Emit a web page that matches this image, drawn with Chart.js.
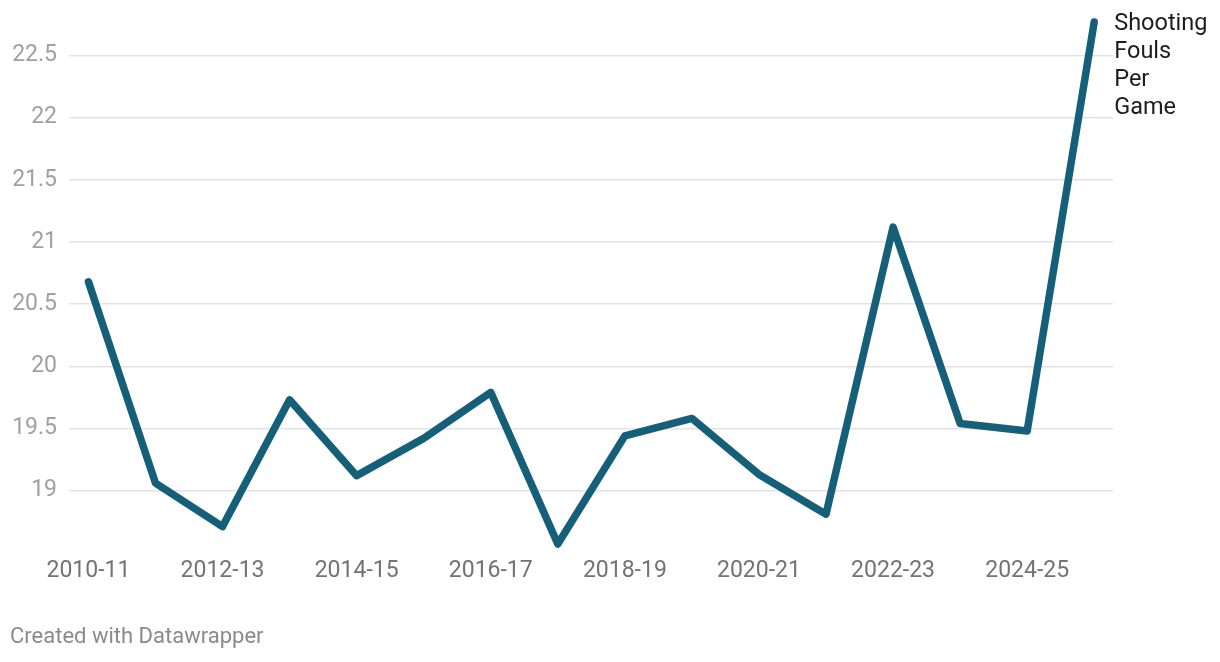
<!DOCTYPE html>
<html>
<head>
<meta charset="utf-8">
<script src="https://cdn.jsdelivr.net/npm/chart.js@4/dist/chart.umd.min.js"></script>
<style>
  html, body { margin: 0; padding: 0; background: #fff; }
  #wrap { position: relative; width: 1220px; height: 662px; }
  #footer { position: absolute; left: 10px; top: 623px; font-family: Roboto, sans-serif; font-size: 22px; line-height: 26px; color: #8a8a8a; }
</style>
</head>
<body>
<div id="wrap">
  <canvas id="c"></canvas>
  <div id="footer">Created with Datawrapper</div>
</div>
<script>
const seasons = ["2010-11","2011-12","2012-13","2013-14","2014-15","2015-16","2016-17","2017-18","2018-19","2019-20","2020-21","2021-22","2022-23","2023-24","2024-25","2025-26"];
const shootingFouls = [20.68, 19.06, 18.71, 19.73, 19.12, 19.42, 19.79, 18.57, 19.44, 19.58, 19.13, 18.81, 21.12, 19.54, 19.48, 22.77];
const yTicks = [19, 19.5, 20, 20.5, 21, 21.5, 22, 22.5];
const xTickIdx = [0, 2, 4, 6, 8, 10, 12, 14];
const seriesLabel = ["Shooting", "Fouls", "Per", "Game"];

const endLabel = {
  id: 'endLabel',
  afterDatasetsDraw(chart) {
    const meta = chart.getDatasetMeta(0);
    const pt = meta.data[meta.data.length - 1];
    const ctx = chart.ctx;
    ctx.save();
    ctx.font = '23.5px Roboto';
    ctx.fillStyle = '#1d1d1d';
    ctx.textAlign = 'left';
    ctx.textBaseline = 'middle';
    seriesLabel.forEach((t, i) => ctx.fillText(t, pt.x + 20, pt.y + 2 + i * 28));
    ctx.restore();
  }
};

new Chart(document.getElementById('c'), {
  type: 'line',
  data: {
    datasets: [{
      data: shootingFouls.map((v, i) => ({ x: i, y: v })),
      borderColor: '#155f79',
      borderWidth: 7.5,
      borderCapStyle: 'round',
      borderJoinStyle: 'round',
      pointRadius: 0,
      tension: 0,
      clip: false
    }]
  },
  options: {
    responsive: true,
    maintainAspectRatio: false,
    animation: false,
    layout: { padding: { left: 0, right: 107, top: 10, bottom: 75 } },
    plugins: { legend: { display: false }, tooltip: { enabled: false } },
    scales: {
      x: {
        type: 'linear',
        min: -0.29,
        max: 15.28,
        afterBuildTicks: (s) => { s.ticks = xTickIdx.map(v => ({ value: v })); },
        afterFit: (s) => { s.height = 40; },
        grid: { display: false, drawTicks: false },
        border: { display: false },
        ticks: {
          padding: 10,
          autoSkip: false,
          maxRotation: 0,
          color: '#737373',
          font: { family: 'Roboto', size: 23 },
          callback: (v) => seasons[v]
        }
      },
      y: {
        min: 18.546,
        max: 22.739,
        afterBuildTicks: (s) => { s.ticks = yTicks.map(v => ({ value: v })); },
        afterFit: (s) => { s.width = 69; },
        grid: { color: '#e3e3e3', lineWidth: 1.5, drawTicks: false },
        border: { display: false },
        ticks: {
          padding: 12,
          color: '#a0a0a0',
          font: { family: 'Roboto', size: 23 },
          callback: (v) => String(v)
        }
      }
    }
  },
  plugins: [endLabel]
});
</script>
</body>
</html>
